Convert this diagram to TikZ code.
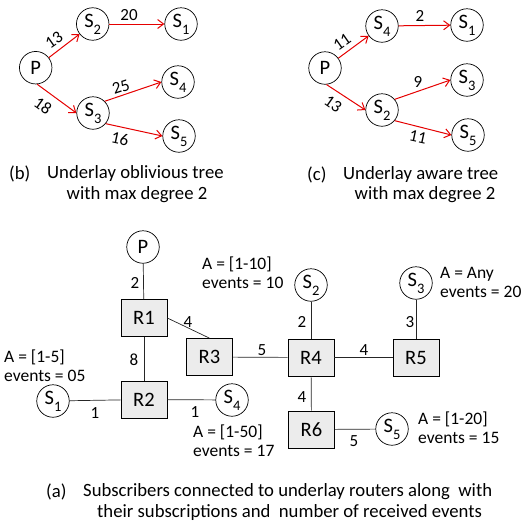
\documentclass[tikz,border=0pt]{standalone}
\usepackage{fontspec}
\setmainfont{Carlito}
\usetikzlibrary{arrows.meta}
\newcommand\sbs[1]{\raisebox{-0.7ex}{\fontsize{14.5}{14.5}\selectfont#1}}
\tikzset{
  cnode/.style={circle, draw, line width=0.7pt, minimum size=32.5pt, inner sep=0pt, font=\fontsize{20.5}{20.5}\selectfont},
  rnode/.style={rectangle, draw, line width=0.7pt, fill=gray!15, minimum width=46pt, minimum height=37pt, inner sep=0pt, font=\fontsize{20.5}{20.5}\selectfont},
  rarr/.style={red!90!black, line width=1pt, -{Straight Barb[length=6pt, width=9pt, line width=1pt]}},
  link/.style={line width=0.7pt, black!85},
  lbl/.style={font=\fontsize{17}{17}\selectfont, inner sep=0pt},
  info/.style={font=\fontsize{17.5}{19}\selectfont, align=left, inner sep=0pt, anchor=west},
  captext/.style={font=\fontsize{18.7}{18.7}\selectfont, inner sep=0pt},
}
\begin{document}
\begin{tikzpicture}[x=1pt, y=-1pt]
\useasboundingbox (0,0) rectangle (529,523);
% ---------- (b) ----------
\node[cnode] (bP) at (35.7,67.7) {P};
\node[cnode] (bS2) at (92.7,24) {S\sbs{2}};
\node[cnode] (bS1) at (181,24) {S\sbs{1}};
\node[cnode] (bS4) at (178,82) {S\sbs{4}};
\node[cnode] (bS3) at (93,113) {S\sbs{3}};
\node[cnode] (bS5) at (179,136) {S\sbs{5}};
\draw[rarr] (bP) -- (bS2);
\draw[rarr] (bP.-85) -- (bS3.west);
\draw[rarr] (bS2) -- (bS1);
\draw[rarr] (bS3.45) -- (bS4.west);
\draw[rarr] (bS3.-40) -- (bS5.west);
\node[lbl, rotate=35] (b13) at (54,40) {13};
\node[lbl] (b20) at (129,15) {20};
\node[lbl, rotate=18] (b25) at (121,87) {25};
\node[lbl, rotate=-35] (b18) at (43,106) {18};
\node[lbl, rotate=-12] (b16) at (120,139) {16};
\node[captext, anchor=west] (bcapA) at (9,174) {(b)};
\node[captext, anchor=west] (bcapB) at (47,174) {Underlay oblivious tree};
\node[captext] (bcapC) at (137,195) {with max degree 2};
% ---------- (c) ----------
\node[cnode] (cP) at (325,68) {P};
\node[cnode] (cS4) at (382,26) {S\sbs{4}};
\node[cnode] (cS1) at (467,25) {S\sbs{1}};
\node[cnode] (cS3) at (467,80) {S\sbs{3}};
\node[cnode] (cS2) at (382,110) {S\sbs{2}};
\node[cnode] (cS5) at (468,135) {S\sbs{5}};
\draw[rarr] (cP) -- (cS4);
\draw[rarr] (cP.-85) -- (cS2.west);
\draw[rarr] (cS4) -- (cS1);
\draw[rarr] (cS2.40) -- (cS3.west);
\draw[rarr] (cS2.-40) -- (cS5.west);
\node[lbl, rotate=35] (c11a) at (342,42) {11};
\node[lbl] (c2) at (420,16) {2};
\node[lbl] (c9) at (418,82) {9};
\node[lbl, rotate=-35] (c13) at (333,104) {13};
\node[lbl, rotate=-12] (c11b) at (418,137) {11};
\node[captext, anchor=west] (ccapA) at (307,175) {(c)};
\node[captext, anchor=west] (ccapB) at (343,175) {Underlay aware tree};
\node[captext] (ccapC) at (425,195) {with max degree 2};
% ---------- (a) ----------
\node[cnode] (aP) at (143,247) {P};
\node[rnode] (R1) at (144,318) {R1};
\node[rnode] (R2) at (144,399.5) {R2};
\node[rnode] (R3) at (209.5,357) {R3};
\node[rnode] (R4) at (311,357.5) {R4};
\node[rnode] (R5) at (416,357.5) {R5};
\node[rnode] (R6) at (311.5,429.5) {R6};
\node[cnode] (aS1) at (53,401) {S\sbs{1}};
\node[cnode] (aS4) at (232,400) {S\sbs{4}};
\node[cnode] (aS2) at (311,285) {S\sbs{2}};
\node[cnode] (aS3) at (416,283) {S\sbs{3}};
\node[cnode] (aS5) at (392,429) {S\sbs{5}};
\draw[link] (aP) -- (R1);
\draw[link] (R1.east) -- (R3.north);
\draw[link] (R1) -- (R2);
\draw[link] (aS1) -- (R2);
\draw[link] (R2) -- (aS4);
\draw[link] (R3) -- (R4);
\draw[link] (aS2) -- (R4);
\draw[link] (R4) -- (R5);
\draw[link] (aS3) -- (R5);
\draw[link] (R4) -- (R6);
\draw[link] (R6) -- (aS5);
\node[lbl] (l1) at (135,283) {2};
\node[lbl] (l2) at (188,322) {4};
\node[lbl] (l3) at (134,360) {8};
\node[lbl] (l4) at (95,413) {1};
\node[lbl] (l5) at (195,412) {1};
\node[lbl] (l6) at (262,350) {5};
\node[lbl] (l7) at (302,322) {2};
\node[lbl] (l8) at (410,322) {3};
\node[lbl] (l9) at (364,350) {4};
\node[lbl] (l10) at (302,397) {4};
\node[lbl] (l11) at (354,441) {5};
\node[info] (i1) at (4,366) {A = [1-5]\\events = 05};
\node[info] (i2) at (202,272.5) {A = [1-10]\\events = 10};
\node[info] (i3) at (440,282.5) {A = Any\\events = 20};
\node[info] (i4) at (193,441) {A = [1-50]\\events = 17};
\node[info] (i5) at (418,427.5) {A = [1-20]\\events = 15};
\node[captext, anchor=west] (acapA) at (46,492) {(a)};
\node[captext, anchor=west] (acapB) at (83,492) {Subscribers connected to underlay routers along\ \ with};
\node[captext, anchor=west] (acapC) at (97,513) {their subscriptions and\ \ number of received events};
\end{tikzpicture}
\end{document}
